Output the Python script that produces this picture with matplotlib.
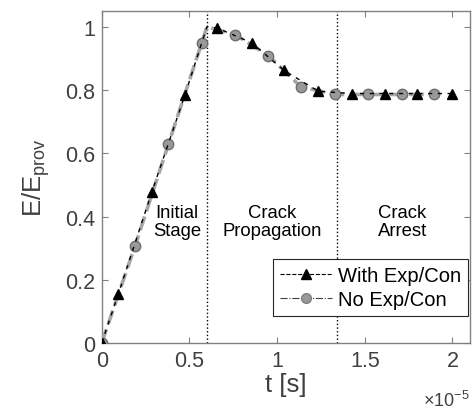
import matplotlib
matplotlib.use("Agg")
import matplotlib.pyplot as plt
from matplotlib.lines import Line2D

plt.rcParams['font.family'] = ['Liberation Sans', 'DejaVu Sans']
plt.rcParams['mathtext.fontset'] = 'custom'
plt.rcParams['mathtext.rm'] = 'Liberation Sans'
plt.rcParams['mathtext.it'] = 'Liberation Sans'

# Data (t in units of 1e-5 s)
t_with = [0, 0.095, 0.285, 0.475, 0.6, 0.66, 0.856, 1.04, 1.236, 1.427, 1.617, 1.798, 1.998]
E_with = [0, 0.155, 0.476, 0.785, 1.0, 0.996, 0.949, 0.862, 0.796, 0.789, 0.789, 0.789, 0.789]
mk_with = [0, 1, 2, 3, 5, 6, 7, 8, 9, 10, 11, 12]

t_no = [0, 0.19, 0.38, 0.571, 0.6, 0.761, 0.951, 1.136, 1.332, 1.516, 1.712, 1.897]
E_no = [0, 0.307, 0.628, 0.95, 1.0, 0.975, 0.909, 0.81, 0.786, 0.786, 0.786, 0.786]
mk_no = [0, 1, 2, 3, 5, 6, 7, 8, 9, 10, 11]

stage_bounds = [0.6, 1.34]
stage_labels = ["Initial\nStage", "Crack\nPropagation", "Crack\nArrest"]
stage_x = [0.43, 0.97, 1.715]
stage_y = 0.385

xticks = [0, 0.5, 1, 1.5, 2]
xticklabels = ['0', '0.5', '1', '1.5', '2']
yticks = [0, 0.2, 0.4, 0.6, 0.8, 1.0]
yticklabels = ['0', '0.2', '0.4', '0.6', '0.8', '1']

scale = 1e-5
fig = plt.figure(figsize=(4.73, 4.14), dpi=100)
ax = fig.add_axes([101.7/473, 1 - 344/414, (470 - 101.7)/473, (344 - 12)/414])

gray_axis = '#808080'
text_col = '#404040'

ax.plot([v*scale for v in t_no], E_no, linestyle=(0, (4, 1.5)), color='#a6a6a6', lw=2.6,
        marker='o', markersize=7.5, markerfacecolor='#999999', markeredgecolor='#6e6e6e',
        markevery=mk_no, zorder=3)
ax.plot([v*scale for v in t_with], E_with, linestyle=(0, (3, 4)), color='black', lw=1.0,
        marker='^', markersize=6.5, markerfacecolor='black', markeredgecolor='black',
        markevery=mk_with, zorder=4)

for b in stage_bounds:
    ax.axvline(b*scale, color='black', linestyle=':', lw=1.0, zorder=2)

for x, s in zip(stage_x, stage_labels):
    ax.text(x*scale, stage_y, s, ha='center', va='center', fontsize=13.3, color='black',
            linespacing=1.1)

ax.set_xlim(0, 2.1e-5)
ax.set_ylim(0, 1.05)
ax.set_xticks([v*scale for v in xticks])
ax.set_xticklabels(xticklabels)
ax.set_yticks(yticks)
ax.set_yticklabels(yticklabels)

ax.text(1.0, -0.14, r'$\times$10$^{-5}$', transform=ax.transAxes, ha='right', va='top',
        fontsize=13, color=text_col)

for sp in ax.spines.values():
    sp.set_color(gray_axis)
    sp.set_linewidth(1.0)
ax.tick_params(direction='in', top=True, right=True, length=4, width=0.8,
               colors=gray_axis, labelcolor=text_col, labelsize=15.5, pad=5)

ax.set_xlabel('t [s]', fontsize=18.5, color=text_col, labelpad=1)
ax.set_ylabel(r'E/E$_{\mathrm{prov}}$', fontsize=18.5, color=text_col, labelpad=9)

h_with = Line2D([], [], linestyle='--', color='black', lw=0.8, marker='^', markersize=7,
                markerfacecolor='black', markeredgecolor='black')
h_no = Line2D([], [], linestyle='-.', color='#404040', lw=0.8, marker='o', markersize=7,
              markerfacecolor='#999999', markeredgecolor='#808080')
leg = ax.legend([h_with, h_no], ['With Exp/Con', 'No Exp/Con'], loc='lower right',
                fontsize=14.5, frameon=True, fancybox=False, edgecolor='#262626',
                framealpha=1, bbox_to_anchor=(0.995, 0.08), handlelength=2.6,
                handletextpad=0.3, borderpad=0.35, labelspacing=0.25, borderaxespad=0)
leg.get_frame().set_linewidth(0.8)
for t in leg.get_texts():
    t.set_color('black')

fig.savefig('out.png', dpi=100)
